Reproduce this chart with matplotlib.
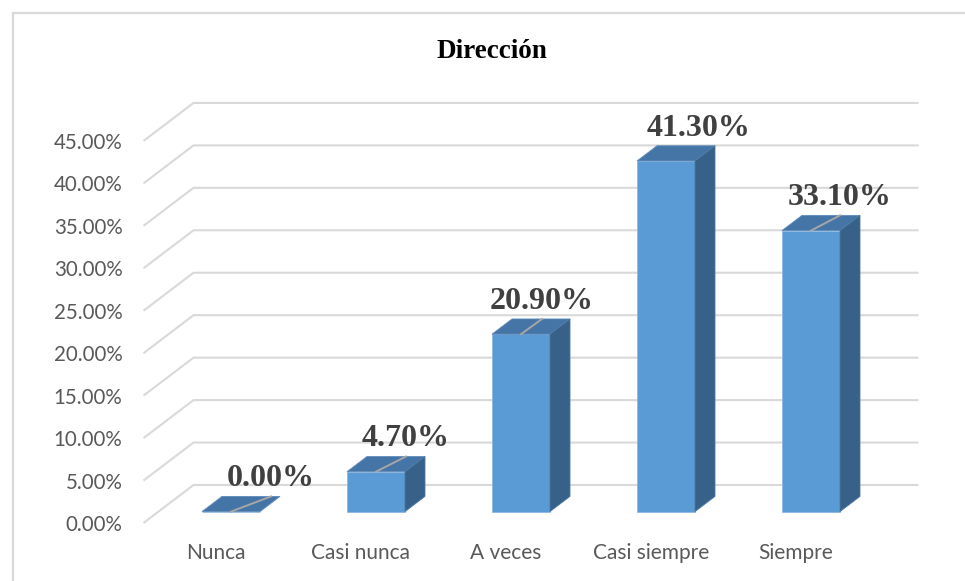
import matplotlib
matplotlib.use("Agg")
import matplotlib.pyplot as plt
from matplotlib.lines import Line2D

# datos
categorias = ["Nunca", "Casi nunca", "A veces", "Casi siempre", "Siempre"]
valores = [0.0, 4.7, 20.9, 41.3, 33.1]
ticks_y = [0, 5, 10, 15, 20, 25, 30, 35, 40, 45]
titulo = "Dirección"

# layout (pixeles de la figura)
W, H = 965, 581
PX_CAT = 145.0          # px por categoria
PX_PCT = 8.49           # px por 1 %
X0, Y0 = 216.0, 523.0   # centro de la primera categoria en el borde frontal del piso
DEPTH_X, DEPTH_Y = 50.0, 38.0
ddx = DEPTH_X / PX_CAT
ddy = DEPTH_Y / PX_PCT
d0, d1 = 0.3, 0.7       # profundidad de las barras
half_w = 29.0 / PX_CAT
label_nudge_px = [40, 30, 21, 33, 29]

c_front = "#5B9BD5"
c_top = "#4575A6"
c_side = "#386189"
c_grid = "#D9D9D9"

fig = plt.figure(figsize=(W / 100, H / 100), dpi=100)
ax = fig.add_axes([0, 0, 1, 1])
ax.set_xlim(-X0 / PX_CAT, (W - X0) / PX_CAT)
ax.set_ylim((Y0 - H) / PX_PCT, Y0 / PX_PCT)
ax.axis("off")

# borde del grafico
fig.add_artist(Line2D([12.5 / W, 1], [1 - 13 / H, 1 - 13 / H], color=c_grid, lw=1.6))
fig.add_artist(Line2D([12.5 / W, 12.5 / W], [0, 1 - 13 / H], color=c_grid, lw=1.6))

# lineas de cuadricula (pared lateral + fondo)
n = len(categorias)
for v in ticks_y:
    xs = [-0.5, -0.5 + ddx, n - 0.5 + ddx]
    ys = [v, v + ddy, v + ddy]
    ax.plot(xs, ys, color=c_grid, lw=1.5, zorder=1, solid_capstyle="butt")
    ax.text(-0.5 - 21 / PX_CAT, v, f"{v:.2f}%", ha="right", va="center_baseline",
            fontsize=14.8, family="Lato", color="#595959")

# barras 3d
for i, v in enumerate(valores):
    xl, xr = i - half_w, i + half_w
    # cara frontal
    ax.bar(i + d0 * ddx, v, bottom=d0 * ddy, width=2 * half_w, color=c_front,
           edgecolor="#8DB8E2", linewidth=0.6, zorder=3)
    # cara superior
    top = [(xl + d0 * ddx, v + d0 * ddy), (xr + d0 * ddx, v + d0 * ddy),
           (xr + d1 * ddx, v + d1 * ddy), (xl + d1 * ddx, v + d1 * ddy)]
    ax.fill(*zip(*top), color=c_top, ec="#5F8CBB", lw=0.6, zorder=3)
    # cara lateral
    if v > 0:
        side = [(xr + d0 * ddx, d0 * ddy), (xr + d1 * ddx, d1 * ddy),
                (xr + d1 * ddx, v + d1 * ddy), (xr + d0 * ddx, v + d0 * ddy)]
        ax.fill(*zip(*side), color=c_side, ec="#4E78A3", lw=0.6, zorder=3)

    # etiqueta de datos con linea guia
    lx = i + d0 * ddx + label_nudge_px[i] / PX_CAT
    ly = v + d1 * ddy
    if i != 3:
        ax.plot([i + d0 * ddx, lx], [v + d0 * ddy, ly], color="#A6A6A6", lw=1.4, zorder=4)
    ax.text(lx, ly + 10 / PX_PCT, f"{v:.2f}%", ha="center", va="baseline",
            fontsize=23, fontweight="bold", family="Liberation Serif",
            color="#404040", zorder=5)

    # etiqueta de categoria
    ax.text(i, (Y0 - 553) / PX_PCT, categorias[i], ha="center", va="center",
            fontsize=15, family="Lato", color="#595959")

fig.text(492 / W, 1 - 58 / H, titulo, ha="center", va="baseline",
         fontsize=19.5, fontweight="bold", family="Liberation Serif", color="black")

fig.savefig("out.png", dpi=100)
